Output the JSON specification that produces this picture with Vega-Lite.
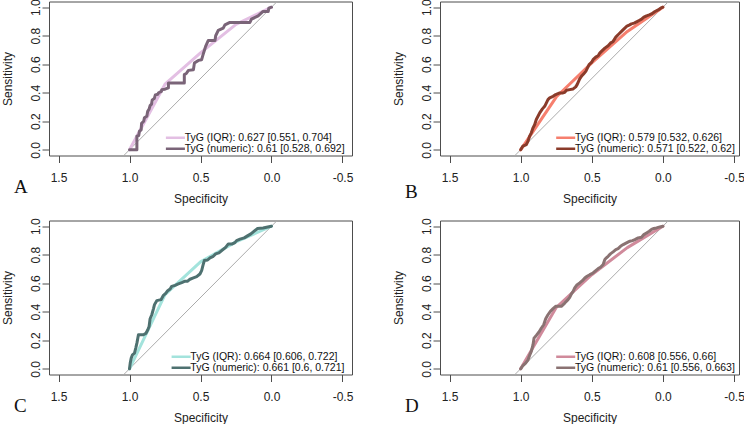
{
  "$schema": "https://vega.github.io/schema/vega-lite/v6.json",
  "padding": {"left": 0, "top": -2.5, "right": 0, "bottom": 0},
  "background": "white",
  "config": {
    "font": "Liberation Sans",
    "view": {"stroke": "#4d4d4d", "strokeWidth": 1},
    "axis": {"grid": false, "domain": false, "tickColor": "#4d4d4d", "tickSize": 7, "labelFont": "Liberation Sans", "labelFontSize": 12, "labelColor": "#222222", "titleFont": "Liberation Sans", "titleFontSize": 12, "titleFontWeight": "normal", "titleColor": "#222222", "labelFlush": false, "labelOverlap": false},
    "axisX": {"labelPadding": 10, "titlePadding": 9.5},
    "axisY": {"labelPadding": 3, "titlePadding": 15},
    "legend": {"orient": "none", "labelFont": "Liberation Sans", "labelFontSize": 10.5, "labelColor": "#111111", "symbolType": "M-4,0H4", "symbolSize": 22.6, "symbolStrokeWidth": 2.5, "symbolOffset": -7.15, "labelOffset": 4, "rowPadding": -2.5, "padding": 0, "labelLimit": 400},
    "title": {"font": "Liberation Serif", "fontSize": 19, "fontWeight": "normal", "color": "#111111", "orient": "bottom", "anchor": "start", "frame": "group", "offset": 0},
    "line": {"strokeCap": "round", "strokeJoin": "round"}
  },
  "datasets": {
    "diag": [{"spec": 1.04, "sens": -0.04}, {"spec": -0.04, "sens": 1.04}],
    "roc": [
      {"p":"A","s":"IQR","spec":1,"sens":0},{"p":"A","s":"IQR","spec":0.75,"sens":0.46},{"p":"A","s":"IQR","spec":0.5,"sens":0.68},{"p":"A","s":"IQR","spec":0.25,"sens":0.88},{"p":"A","s":"IQR","spec":0,"sens":1},
      {"p":"B","s":"IQR","spec":1,"sens":0},{"p":"B","s":"IQR","spec":0.75,"sens":0.37},{"p":"B","s":"IQR","spec":0.5,"sens":0.61},{"p":"B","s":"IQR","spec":0.25,"sens":0.83},{"p":"B","s":"IQR","spec":0,"sens":1},
      {"p":"C","s":"IQR","spec":1,"sens":0},{"p":"C","s":"IQR","spec":0.75,"sens":0.52},{"p":"C","s":"IQR","spec":0.5,"sens":0.75},{"p":"C","s":"IQR","spec":0.25,"sens":0.89},{"p":"C","s":"IQR","spec":0,"sens":1},
      {"p":"D","s":"IQR","spec":1,"sens":0},{"p":"D","s":"IQR","spec":0.75,"sens":0.43},{"p":"D","s":"IQR","spec":0.5,"sens":0.66},{"p":"D","s":"IQR","spec":0.25,"sens":0.85},{"p":"D","s":"IQR","spec":0,"sens":1},
      {"p":"A","s":"numeric","spec":1,"sens":0},{"p":"A","s":"numeric","spec":0.948,"sens":0},{"p":"A","s":"numeric","spec":0.948,"sens":0.096},{"p":"A","s":"numeric","spec":0.935,"sens":0.1},{"p":"A","s":"numeric","spec":0.93,"sens":0.13},{"p":"A","s":"numeric","spec":0.918,"sens":0.14},{"p":"A","s":"numeric","spec":0.915,"sens":0.185},{"p":"A","s":"numeric","spec":0.9,"sens":0.2},{"p":"A","s":"numeric","spec":0.895,"sens":0.224},{"p":"A","s":"numeric","spec":0.878,"sens":0.235},{"p":"A","s":"numeric","spec":0.872,"sens":0.27},{"p":"A","s":"numeric","spec":0.862,"sens":0.285},{"p":"A","s":"numeric","spec":0.855,"sens":0.31},{"p":"A","s":"numeric","spec":0.845,"sens":0.32},{"p":"A","s":"numeric","spec":0.84,"sens":0.35},{"p":"A","s":"numeric","spec":0.825,"sens":0.36},{"p":"A","s":"numeric","spec":0.818,"sens":0.385},{"p":"A","s":"numeric","spec":0.8,"sens":0.39},{"p":"A","s":"numeric","spec":0.795,"sens":0.4},{"p":"A","s":"numeric","spec":0.775,"sens":0.41},{"p":"A","s":"numeric","spec":0.773,"sens":0.422},{"p":"A","s":"numeric","spec":0.75,"sens":0.425},{"p":"A","s":"numeric","spec":0.726,"sens":0.434},{"p":"A","s":"numeric","spec":0.726,"sens":0.469},{"p":"A","s":"numeric","spec":0.614,"sens":0.469},{"p":"A","s":"numeric","spec":0.614,"sens":0.527},{"p":"A","s":"numeric","spec":0.6,"sens":0.535},{"p":"A","s":"numeric","spec":0.585,"sens":0.557},{"p":"A","s":"numeric","spec":0.55,"sens":0.562},{"p":"A","s":"numeric","spec":0.543,"sens":0.608},{"p":"A","s":"numeric","spec":0.515,"sens":0.627},{"p":"A","s":"numeric","spec":0.492,"sens":0.632},{"p":"A","s":"numeric","spec":0.48,"sens":0.674},{"p":"A","s":"numeric","spec":0.464,"sens":0.725},{"p":"A","s":"numeric","spec":0.445,"sens":0.767},{"p":"A","s":"numeric","spec":0.398,"sens":0.767},{"p":"A","s":"numeric","spec":0.393,"sens":0.8},{"p":"A","s":"numeric","spec":0.375,"sens":0.837},{"p":"A","s":"numeric","spec":0.34,"sens":0.853},{"p":"A","s":"numeric","spec":0.328,"sens":0.876},{"p":"A","s":"numeric","spec":0.293,"sens":0.893},{"p":"A","s":"numeric","spec":0.152,"sens":0.893},{"p":"A","s":"numeric","spec":0.141,"sens":0.916},{"p":"A","s":"numeric","spec":0.094,"sens":0.939},{"p":"A","s":"numeric","spec":0.059,"sens":0.97},{"p":"A","s":"numeric","spec":0.023,"sens":0.97},{"p":"A","s":"numeric","spec":0.019,"sens":0.993},{"p":"A","s":"numeric","spec":0,"sens":1},
      {"p":"B","s":"numeric","spec":1,"sens":0},{"p":"B","s":"numeric","spec":0.984,"sens":0.026},{"p":"B","s":"numeric","spec":0.96,"sens":0.037},{"p":"B","s":"numeric","spec":0.948,"sens":0.061},{"p":"B","s":"numeric","spec":0.937,"sens":0.096},{"p":"B","s":"numeric","spec":0.925,"sens":0.119},{"p":"B","s":"numeric","spec":0.913,"sens":0.154},{"p":"B","s":"numeric","spec":0.901,"sens":0.177},{"p":"B","s":"numeric","spec":0.89,"sens":0.212},{"p":"B","s":"numeric","spec":0.878,"sens":0.235},{"p":"B","s":"numeric","spec":0.866,"sens":0.259},{"p":"B","s":"numeric","spec":0.847,"sens":0.287},{"p":"B","s":"numeric","spec":0.831,"sens":0.305},{"p":"B","s":"numeric","spec":0.819,"sens":0.329},{"p":"B","s":"numeric","spec":0.808,"sens":0.352},{"p":"B","s":"numeric","spec":0.796,"sens":0.364},{"p":"B","s":"numeric","spec":0.772,"sens":0.375},{"p":"B","s":"numeric","spec":0.754,"sens":0.387},{"p":"B","s":"numeric","spec":0.725,"sens":0.399},{"p":"B","s":"numeric","spec":0.702,"sens":0.399},{"p":"B","s":"numeric","spec":0.69,"sens":0.403},{"p":"B","s":"numeric","spec":0.678,"sens":0.417},{"p":"B","s":"numeric","spec":0.655,"sens":0.422},{"p":"B","s":"numeric","spec":0.631,"sens":0.427},{"p":"B","s":"numeric","spec":0.613,"sens":0.441},{"p":"B","s":"numeric","spec":0.603,"sens":0.457},{"p":"B","s":"numeric","spec":0.596,"sens":0.473},{"p":"B","s":"numeric","spec":0.585,"sens":0.497},{"p":"B","s":"numeric","spec":0.573,"sens":0.515},{"p":"B","s":"numeric","spec":0.556,"sens":0.534},{"p":"B","s":"numeric","spec":0.542,"sens":0.55},{"p":"B","s":"numeric","spec":0.531,"sens":0.573},{"p":"B","s":"numeric","spec":0.519,"sens":0.597},{"p":"B","s":"numeric","spec":0.502,"sens":0.613},{"p":"B","s":"numeric","spec":0.491,"sens":0.632},{"p":"B","s":"numeric","spec":0.472,"sens":0.65},{"p":"B","s":"numeric","spec":0.455,"sens":0.66},{"p":"B","s":"numeric","spec":0.444,"sens":0.678},{"p":"B","s":"numeric","spec":0.432,"sens":0.69},{"p":"B","s":"numeric","spec":0.408,"sens":0.713},{"p":"B","s":"numeric","spec":0.385,"sens":0.73},{"p":"B","s":"numeric","spec":0.369,"sens":0.748},{"p":"B","s":"numeric","spec":0.35,"sens":0.76},{"p":"B","s":"numeric","spec":0.331,"sens":0.79},{"p":"B","s":"numeric","spec":0.315,"sens":0.807},{"p":"B","s":"numeric","spec":0.291,"sens":0.83},{"p":"B","s":"numeric","spec":0.275,"sens":0.846},{"p":"B","s":"numeric","spec":0.256,"sens":0.865},{"p":"B","s":"numeric","spec":0.237,"sens":0.874},{"p":"B","s":"numeric","spec":0.221,"sens":0.883},{"p":"B","s":"numeric","spec":0.202,"sens":0.888},{"p":"B","s":"numeric","spec":0.185,"sens":0.897},{"p":"B","s":"numeric","spec":0.167,"sens":0.907},{"p":"B","s":"numeric","spec":0.15,"sens":0.916},{"p":"B","s":"numeric","spec":0.134,"sens":0.93},{"p":"B","s":"numeric","spec":0.115,"sens":0.939},{"p":"B","s":"numeric","spec":0.096,"sens":0.946},{"p":"B","s":"numeric","spec":0.08,"sens":0.953},{"p":"B","s":"numeric","spec":0.056,"sens":0.97},{"p":"B","s":"numeric","spec":0.033,"sens":0.981},{"p":"B","s":"numeric","spec":0.016,"sens":0.993},{"p":"B","s":"numeric","spec":0,"sens":1},
      {"p":"C","s":"numeric","spec":1,"sens":0},{"p":"C","s":"numeric","spec":0.995,"sens":0.04},{"p":"C","s":"numeric","spec":0.988,"sens":0.075},{"p":"C","s":"numeric","spec":0.979,"sens":0.098},{"p":"C","s":"numeric","spec":0.965,"sens":0.11},{"p":"C","s":"numeric","spec":0.956,"sens":0.145},{"p":"C","s":"numeric","spec":0.948,"sens":0.18},{"p":"C","s":"numeric","spec":0.937,"sens":0.239},{"p":"C","s":"numeric","spec":0.902,"sens":0.239},{"p":"C","s":"numeric","spec":0.885,"sens":0.248},{"p":"C","s":"numeric","spec":0.871,"sens":0.274},{"p":"C","s":"numeric","spec":0.862,"sens":0.297},{"p":"C","s":"numeric","spec":0.855,"sens":0.351},{"p":"C","s":"numeric","spec":0.843,"sens":0.379},{"p":"C","s":"numeric","spec":0.831,"sens":0.422},{"p":"C","s":"numeric","spec":0.824,"sens":0.45},{"p":"C","s":"numeric","spec":0.808,"sens":0.478},{"p":"C","s":"numeric","spec":0.778,"sens":0.485},{"p":"C","s":"numeric","spec":0.761,"sens":0.515},{"p":"C","s":"numeric","spec":0.745,"sens":0.529},{"p":"C","s":"numeric","spec":0.731,"sens":0.548},{"p":"C","s":"numeric","spec":0.714,"sens":0.56},{"p":"C","s":"numeric","spec":0.703,"sens":0.578},{"p":"C","s":"numeric","spec":0.679,"sens":0.585},{"p":"C","s":"numeric","spec":0.656,"sens":0.595},{"p":"C","s":"numeric","spec":0.632,"sens":0.604},{"p":"C","s":"numeric","spec":0.609,"sens":0.614},{"p":"C","s":"numeric","spec":0.59,"sens":0.614},{"p":"C","s":"numeric","spec":0.574,"sens":0.628},{"p":"C","s":"numeric","spec":0.55,"sens":0.637},{"p":"C","s":"numeric","spec":0.527,"sens":0.646},{"p":"C","s":"numeric","spec":0.504,"sens":0.665},{"p":"C","s":"numeric","spec":0.492,"sens":0.689},{"p":"C","s":"numeric","spec":0.48,"sens":0.735},{"p":"C","s":"numeric","spec":0.473,"sens":0.759},{"p":"C","s":"numeric","spec":0.45,"sens":0.763},{"p":"C","s":"numeric","spec":0.433,"sens":0.778},{"p":"C","s":"numeric","spec":0.41,"sens":0.789},{"p":"C","s":"numeric","spec":0.393,"sens":0.806},{"p":"C","s":"numeric","spec":0.37,"sens":0.813},{"p":"C","s":"numeric","spec":0.351,"sens":0.829},{"p":"C","s":"numeric","spec":0.323,"sens":0.852},{"p":"C","s":"numeric","spec":0.304,"sens":0.876},{"p":"C","s":"numeric","spec":0.276,"sens":0.876},{"p":"C","s":"numeric","spec":0.258,"sens":0.885},{"p":"C","s":"numeric","spec":0.246,"sens":0.899},{"p":"C","s":"numeric","spec":0.222,"sens":0.909},{"p":"C","s":"numeric","spec":0.192,"sens":0.918},{"p":"C","s":"numeric","spec":0.169,"sens":0.932},{"p":"C","s":"numeric","spec":0.145,"sens":0.946},{"p":"C","s":"numeric","spec":0.122,"sens":0.965},{"p":"C","s":"numeric","spec":0.098,"sens":0.984},{"p":"C","s":"numeric","spec":0.059,"sens":0.988},{"p":"C","s":"numeric","spec":0.035,"sens":0.993},{"p":"C","s":"numeric","spec":0,"sens":1},
      {"p":"D","s":"numeric","spec":1,"sens":0},{"p":"D","s":"numeric","spec":0.984,"sens":0.023},{"p":"D","s":"numeric","spec":0.965,"sens":0.04},{"p":"D","s":"numeric","spec":0.948,"sens":0.063},{"p":"D","s":"numeric","spec":0.937,"sens":0.094},{"p":"D","s":"numeric","spec":0.925,"sens":0.122},{"p":"D","s":"numeric","spec":0.913,"sens":0.169},{"p":"D","s":"numeric","spec":0.906,"sens":0.215},{"p":"D","s":"numeric","spec":0.89,"sens":0.234},{"p":"D","s":"numeric","spec":0.871,"sens":0.258},{"p":"D","s":"numeric","spec":0.854,"sens":0.286},{"p":"D","s":"numeric","spec":0.838,"sens":0.309},{"p":"D","s":"numeric","spec":0.824,"sens":0.351},{"p":"D","s":"numeric","spec":0.808,"sens":0.379},{"p":"D","s":"numeric","spec":0.791,"sens":0.403},{"p":"D","s":"numeric","spec":0.772,"sens":0.422},{"p":"D","s":"numeric","spec":0.754,"sens":0.438},{"p":"D","s":"numeric","spec":0.714,"sens":0.438},{"p":"D","s":"numeric","spec":0.69,"sens":0.461},{"p":"D","s":"numeric","spec":0.667,"sens":0.485},{"p":"D","s":"numeric","spec":0.655,"sens":0.501},{"p":"D","s":"numeric","spec":0.643,"sens":0.525},{"p":"D","s":"numeric","spec":0.631,"sens":0.543},{"p":"D","s":"numeric","spec":0.62,"sens":0.567},{"p":"D","s":"numeric","spec":0.603,"sens":0.59},{"p":"D","s":"numeric","spec":0.585,"sens":0.602},{"p":"D","s":"numeric","spec":0.566,"sens":0.618},{"p":"D","s":"numeric","spec":0.549,"sens":0.637},{"p":"D","s":"numeric","spec":0.533,"sens":0.649},{"p":"D","s":"numeric","spec":0.514,"sens":0.66},{"p":"D","s":"numeric","spec":0.491,"sens":0.672},{"p":"D","s":"numeric","spec":0.472,"sens":0.689},{"p":"D","s":"numeric","spec":0.455,"sens":0.703},{"p":"D","s":"numeric","spec":0.439,"sens":0.712},{"p":"D","s":"numeric","spec":0.42,"sens":0.731},{"p":"D","s":"numeric","spec":0.408,"sens":0.766},{"p":"D","s":"numeric","spec":0.397,"sens":0.778},{"p":"D","s":"numeric","spec":0.385,"sens":0.789},{"p":"D","s":"numeric","spec":0.369,"sens":0.806},{"p":"D","s":"numeric","spec":0.35,"sens":0.82},{"p":"D","s":"numeric","spec":0.331,"sens":0.836},{"p":"D","s":"numeric","spec":0.315,"sens":0.843},{"p":"D","s":"numeric","spec":0.298,"sens":0.859},{"p":"D","s":"numeric","spec":0.279,"sens":0.871},{"p":"D","s":"numeric","spec":0.256,"sens":0.883},{"p":"D","s":"numeric","spec":0.232,"sens":0.895},{"p":"D","s":"numeric","spec":0.214,"sens":0.899},{"p":"D","s":"numeric","spec":0.197,"sens":0.906},{"p":"D","s":"numeric","spec":0.174,"sens":0.918},{"p":"D","s":"numeric","spec":0.15,"sens":0.923},{"p":"D","s":"numeric","spec":0.134,"sens":0.941},{"p":"D","s":"numeric","spec":0.115,"sens":0.953},{"p":"D","s":"numeric","spec":0.096,"sens":0.965},{"p":"D","s":"numeric","spec":0.08,"sens":0.977},{"p":"D","s":"numeric","spec":0.063,"sens":0.984},{"p":"D","s":"numeric","spec":0.045,"sens":0.988},{"p":"D","s":"numeric","spec":0.021,"sens":0.995},{"p":"D","s":"numeric","spec":0,"sens":1}
    ]
  },
  "columns": 2,
  "spacing": {"row": 65, "column": 88},
  "bounds": "flush",
  "resolve": {"scale": {"color": "independent", "x": "independent", "y": "independent"}},
  "concat": [
    {
      "width": 303, "height": 154,
      "title": {"text": "A", "dx": -35, "dy": -30},
      "layer": [
        {"data": {"name": "diag"}, "mark": {"type": "line", "color": "#ABABAB", "strokeWidth": 1, "clip": true},
         "encoding": {
           "x": {"field": "spec", "type": "quantitative", "title": "Specificity", "scale": {"domain": [-0.567, 1.567], "reverse": true, "nice": false, "zero": false}, "axis": {"values": [1.5, 1, 0.5, 0, -0.5], "tickCount": 10, "labelExpr": "replace(format(datum.value, '.1f'), '\u2212', '-')", "labelOverlap": false}},
           "y": {"field": "sens", "type": "quantitative", "title": "Sensitivity", "scale": {"domain": [-0.04, 1.04], "nice": false, "zero": false}, "axis": {"values": [0, 0.2, 0.4, 0.6, 0.8, 1], "tickCount": 10, "format": ".1f", "labelOverlap": false, "labelAngle": -90, "labelAlign": "center", "labelBaseline": "alphabetic"}}
         }},
        {"data": {"name": "roc"}, "transform": [{"filter": "datum.p == 'A' && datum.s == 'IQR'"}],
         "mark": {"type": "line", "strokeWidth": 3, "clip": true},
         "encoding": {"x": {"field": "spec", "type": "quantitative"}, "y": {"field": "sens", "type": "quantitative"}, "order": {"value": null},
           "color": {"field": "s", "type": "nominal", "scale": {"domain": ["IQR", "numeric"], "range": ["#E3BFE3", "#7A6478"]},
             "legend": {"title": null, "legendX": 128.3, "legendY": 131, "labelExpr": "datum.label == 'IQR' ? 'TyG (IQR): 0.627 [0.551, 0.704]' : 'TyG (numeric): 0.61 [0.528, 0.692]'"}}}},
        {"data": {"name": "roc"}, "transform": [{"filter": "datum.p == 'A' && datum.s == 'numeric'"}],
         "mark": {"type": "line", "strokeWidth": 3, "clip": true},
         "encoding": {"x": {"field": "spec", "type": "quantitative"}, "y": {"field": "sens", "type": "quantitative"}, "order": {"value": null},
           "color": {"field": "s", "type": "nominal"}}}
      ]
    },
    {
      "width": 299, "height": 154,
      "title": {"text": "B", "dx": -35, "dy": -25},
      "layer": [
        {"data": {"name": "diag"}, "mark": {"type": "line", "color": "#ABABAB", "strokeWidth": 1, "clip": true},
         "encoding": {
           "x": {"field": "spec", "type": "quantitative", "title": "Specificity", "scale": {"domain": [-0.535, 1.567], "reverse": true, "nice": false, "zero": false}, "axis": {"values": [1.5, 1, 0.5, 0, -0.5], "tickCount": 10, "labelExpr": "replace(format(datum.value, '.1f'), '\u2212', '-')", "labelOverlap": false}},
           "y": {"field": "sens", "type": "quantitative", "title": "Sensitivity", "scale": {"domain": [-0.04, 1.04], "nice": false, "zero": false}, "axis": {"values": [0, 0.2, 0.4, 0.6, 0.8, 1], "tickCount": 10, "format": ".1f", "labelOverlap": false, "labelAngle": -90, "labelAlign": "center", "labelBaseline": "alphabetic"}}
         }},
        {"data": {"name": "roc"}, "transform": [{"filter": "datum.p == 'B' && datum.s == 'IQR'"}],
         "mark": {"type": "line", "strokeWidth": 3, "clip": true},
         "encoding": {"x": {"field": "spec", "type": "quantitative"}, "y": {"field": "sens", "type": "quantitative"}, "order": {"value": null},
           "color": {"field": "s", "type": "nominal", "scale": {"domain": ["IQR", "numeric"], "range": ["#F67F6E", "#8A3B2A"]},
             "legend": {"title": null, "legendX": 127.6, "legendY": 131, "labelExpr": "datum.label == 'IQR' ? 'TyG (IQR): 0.579 [0.532, 0.626]' : 'TyG (numeric): 0.571 [0.522, 0.62]'"}}}},
        {"data": {"name": "roc"}, "transform": [{"filter": "datum.p == 'B' && datum.s == 'numeric'"}],
         "mark": {"type": "line", "strokeWidth": 3, "clip": true},
         "encoding": {"x": {"field": "spec", "type": "quantitative"}, "y": {"field": "sens", "type": "quantitative"}, "order": {"value": null},
           "color": {"field": "s", "type": "nominal"}}}
      ]
    },
    {
      "width": 303, "height": 154,
      "title": {"text": "C", "dx": -35, "dy": -30},
      "layer": [
        {"data": {"name": "diag"}, "mark": {"type": "line", "color": "#ABABAB", "strokeWidth": 1, "clip": true},
         "encoding": {
           "x": {"field": "spec", "type": "quantitative", "title": "Specificity", "scale": {"domain": [-0.567, 1.567], "reverse": true, "nice": false, "zero": false}, "axis": {"values": [1.5, 1, 0.5, 0, -0.5], "tickCount": 10, "labelExpr": "replace(format(datum.value, '.1f'), '\u2212', '-')", "labelOverlap": false}},
           "y": {"field": "sens", "type": "quantitative", "title": "Sensitivity", "scale": {"domain": [-0.04, 1.04], "nice": false, "zero": false}, "axis": {"values": [0, 0.2, 0.4, 0.6, 0.8, 1], "tickCount": 10, "format": ".1f", "labelOverlap": false, "labelAngle": -90, "labelAlign": "center", "labelBaseline": "alphabetic"}}
         }},
        {"data": {"name": "roc"}, "transform": [{"filter": "datum.p == 'C' && datum.s == 'IQR'"}],
         "mark": {"type": "line", "strokeWidth": 3, "clip": true},
         "encoding": {"x": {"field": "spec", "type": "quantitative"}, "y": {"field": "sens", "type": "quantitative"}, "order": {"value": null},
           "color": {"field": "s", "type": "nominal", "scale": {"domain": ["IQR", "numeric"], "range": ["#A3E3DC", "#4E7170"]},
             "legend": {"title": null, "legendX": 134, "legendY": 131, "labelExpr": "datum.label == 'IQR' ? 'TyG (IQR): 0.664 [0.606, 0.722]' : 'TyG (numeric): 0.661 [0.6, 0.721]'"}}}},
        {"data": {"name": "roc"}, "transform": [{"filter": "datum.p == 'C' && datum.s == 'numeric'"}],
         "mark": {"type": "line", "strokeWidth": 3, "clip": true},
         "encoding": {"x": {"field": "spec", "type": "quantitative"}, "y": {"field": "sens", "type": "quantitative"}, "order": {"value": null},
           "color": {"field": "s", "type": "nominal"}}}
      ]
    },
    {
      "width": 299, "height": 154,
      "title": {"text": "D", "dx": -35, "dy": -30},
      "layer": [
        {"data": {"name": "diag"}, "mark": {"type": "line", "color": "#ABABAB", "strokeWidth": 1, "clip": true},
         "encoding": {
           "x": {"field": "spec", "type": "quantitative", "title": "Specificity", "scale": {"domain": [-0.535, 1.567], "reverse": true, "nice": false, "zero": false}, "axis": {"values": [1.5, 1, 0.5, 0, -0.5], "tickCount": 10, "labelExpr": "replace(format(datum.value, '.1f'), '\u2212', '-')", "labelOverlap": false}},
           "y": {"field": "sens", "type": "quantitative", "title": "Sensitivity", "scale": {"domain": [-0.04, 1.04], "nice": false, "zero": false}, "axis": {"values": [0, 0.2, 0.4, 0.6, 0.8, 1], "tickCount": 10, "format": ".1f", "labelOverlap": false, "labelAngle": -90, "labelAlign": "center", "labelBaseline": "alphabetic"}}
         }},
        {"data": {"name": "roc"}, "transform": [{"filter": "datum.p == 'D' && datum.s == 'IQR'"}],
         "mark": {"type": "line", "strokeWidth": 3, "clip": true},
         "encoding": {"x": {"field": "spec", "type": "quantitative"}, "y": {"field": "sens", "type": "quantitative"}, "order": {"value": null},
           "color": {"field": "s", "type": "nominal", "scale": {"domain": ["IQR", "numeric"], "range": ["#D08A9B", "#8A7272"]},
             "legend": {"title": null, "legendX": 127.6, "legendY": 131, "labelExpr": "datum.label == 'IQR' ? 'TyG (IQR): 0.608 [0.556, 0.66]' : 'TyG (numeric): 0.61 [0.556, 0.663]'"}}}},
        {"data": {"name": "roc"}, "transform": [{"filter": "datum.p == 'D' && datum.s == 'numeric'"}],
         "mark": {"type": "line", "strokeWidth": 3, "clip": true},
         "encoding": {"x": {"field": "spec", "type": "quantitative"}, "y": {"field": "sens", "type": "quantitative"}, "order": {"value": null},
           "color": {"field": "s", "type": "nominal"}}}
      ]
    }
  ]
}
